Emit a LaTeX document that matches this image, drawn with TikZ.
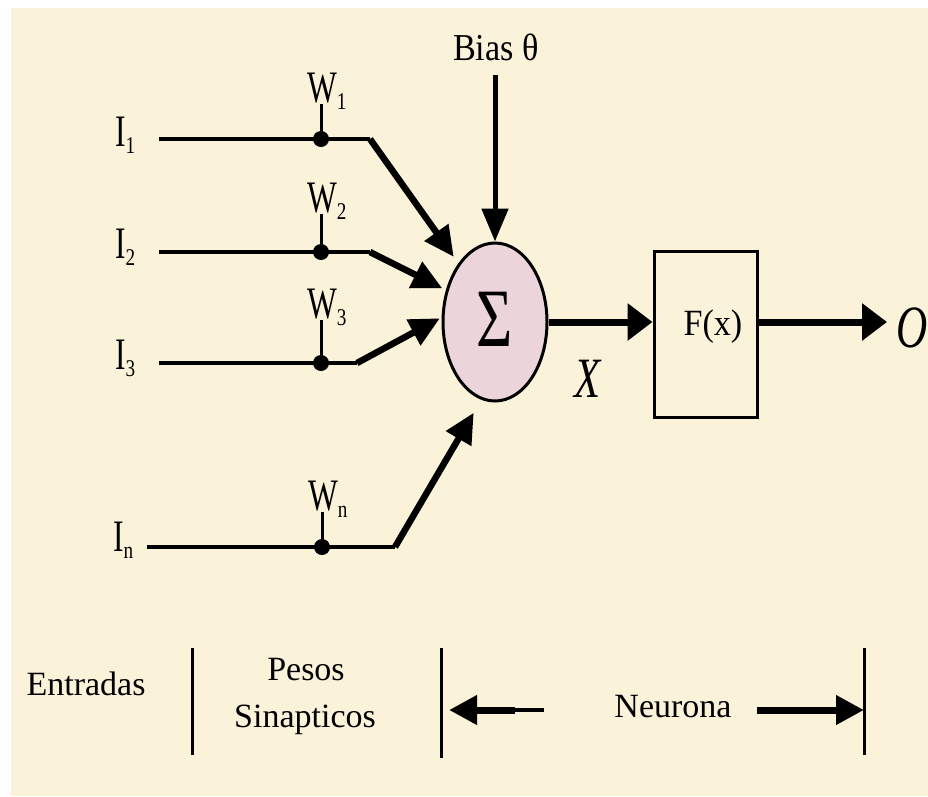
\documentclass[tikz,border=0pt]{standalone}
\usepackage{fontspec}
\setmainfont{Liberation Serif}
\usetikzlibrary{arrows.meta,shapes.geometric,calc}
\definecolor{parch}{HTML}{FBF2DA}
\definecolor{sumfill}{HTML}{EBD5DA}
\newcommand{\inlbl}[2]{{\fontsize{45}{45}\selectfont\scalebox{0.7}[1]{#1}}\raisebox{-7pt}{\fontsize{24}{24}\selectfont\scalebox{0.8}[1]{#2}}}
\begin{document}
\begin{tikzpicture}[x=1pt,y=-1pt,
  lbl/.style={inner sep=0pt, anchor=base west},
  wline/.style={line width=4pt},
  tickline/.style={line width=3pt},
  vline/.style={line width=3pt},
  dot/.style={circle, fill=black, inner sep=0pt, minimum size=16pt},
  inarrow/.style={line width=6.5pt, -{Triangle[length=30pt,width=28pt]}},
  biasarrow/.style={line width=5pt, -{Triangle[length=33pt,width=26pt]}},
  bigarrow/.style={line width=7pt, -{Triangle[length=25pt,width=36pt]}},
  botarrow/.style={line width=7pt, -{Triangle[length=28pt,width=28pt]}},
  bartext/.style={inner sep=0pt, anchor=base, font=\fontsize{34}{40}\selectfont},
]
\useasboundingbox (0,0) rectangle (928,796);
\fill[white] (0,0) rectangle (928,796);
\fill[parch] (11,8) rectangle (928,796);

% summation node and activation box
\node[ellipse, draw, line width=3pt, fill=sumfill, minimum width=104pt, minimum height=158pt, inner sep=0pt] (sum) at (495,322)
  {\raisebox{5pt}{\fontsize{83}{83}\selectfont\scalebox{0.75}[1]{Σ}}};
\node[draw, line width=3pt, minimum width=103pt, minimum height=166pt, inner sep=0pt] (box) at (705.5,334) {};
\node[inner sep=0pt, anchor=base] (fx) at (713,335) {\fontsize{37}{37}\selectfont\scalebox{0.92}[1]{F(x)}};

% bias
\node[inner sep=0pt, anchor=base] (bias) at (496,60) {\fontsize{38}{38}\selectfont\scalebox{0.9}[1]{Bias θ}};
\coordinate (bt) at (495,75);
\draw[biasarrow] (bt) -- (sum.north);

% outputs
\node[inner sep=0pt, anchor=base] (xl) at (588,397) {\fontsize{57}{57}\selectfont\itshape\scalebox{0.75}[1]{X}};
\node[inner sep=0pt, anchor=base west] (out) at (896,347) {\fontsize{60}{60}\selectfont\itshape\scalebox{0.72}[1]{O}};
\draw[bigarrow] (sum.east) -- (sum.east -| box.west);
\draw[bigarrow, shorten >=9pt] (box.east |- sum.east) -- (out.west |- sum.east);

% input 1
\node[lbl] (i1) at (115,146) {\inlbl{I}{1}};
\coordinate (s1) at (159,139);
\node[dot] (d1) at (321,139) {};
\coordinate (b1) at (370,139);
\node[lbl] (w1) at (307,102) {\inlbl{W}{1}};
\coordinate (t1) at (321,104);
\draw[wline] (s1) -- (d1.center) -- (b1);
\draw[tickline] (d1.center) -- (t1);
\draw[inarrow, shorten >=8pt] (b1) -- (sum.122);

% input 2
\node[lbl] (i2) at (115,258) {\inlbl{I}{2}};
\coordinate (s2) at (159,252);
\node[dot] (d2) at (321,252) {};
\coordinate (b2) at (370,252);
\node[lbl] (w2) at (307,212) {\inlbl{W}{2}};
\coordinate (t2) at (321,214);
\draw[wline] (s2) -- (d2.center) -- (b2);
\draw[tickline] (d2.center) -- (t2);
\draw[inarrow, shorten >=4pt] (b2) -- (sum.147);

% input 3
\node[lbl] (i3) at (115,369) {\inlbl{I}{3}};
\coordinate (s3) at (159,363);
\node[dot] (d3) at (321,363) {};
\coordinate (b3) at (357,363);
\node[lbl] (w3) at (307,318) {\inlbl{W}{3}};
\coordinate (t3) at (321,320);
\draw[wline] (s3) -- (d3.center) -- (b3);
\draw[tickline] (d3.center) -- (t3);
\draw[inarrow, shorten >=2pt] (b3) -- (sum.175);

% input n
\node[lbl] (in) at (113,551) {\inlbl{I}{n}};
\coordinate (sn) at (147,547);
\node[dot] (dn) at (322,547) {};
\coordinate (bn) at (395,547);
\node[lbl] (wn) at (308,510) {\inlbl{W}{n}};
\coordinate (tn) at (322,512);
\draw[wline] (sn) -- (dn.center) -- (bn);
\draw[tickline] (dn.center) -- (tn);
\draw[inarrow, shorten >=15pt] (bn) -- (sum.260);

% bottom legend
\node[bartext] (ent) at (86,695) {Entradas};
\node[bartext] (pes) at (306,680) {Pesos};
\node[bartext] (sin) at (305,727) {Sinapticos};
\node[bartext] (neu) at (673,717) {Neurona};
\coordinate (v1t) at (192,648); \coordinate (v1b) at (192,755);
\coordinate (v2t) at (441,648); \coordinate (v2b) at (441,758);
\coordinate (v3t) at (864,648); \coordinate (v3b) at (864,755);
\draw[vline] (v1t) -- (v1b);
\draw[vline] (v2t) -- (v2b);
\draw[vline] (v3t) -- (v3b);
\coordinate (la) at (544,710);
\coordinate (lm) at (515,710);
\coordinate (lt) at (441,710);
\draw[line width=4pt] (la) -- (lm);
\draw[botarrow, shorten >=8pt] (lm) -- (lt);
\coordinate (ra) at (757,710);
\coordinate (rt) at (864,710);
\draw[botarrow] (ra) -- (rt);
\end{tikzpicture}
\end{document}
